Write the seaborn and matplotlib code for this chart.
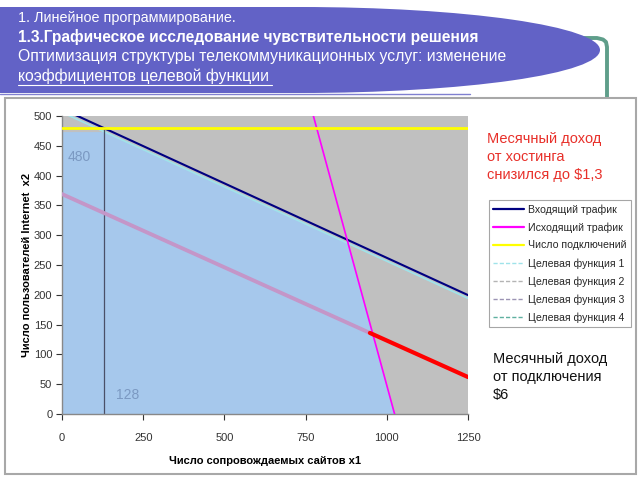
import numpy as np
import pandas as pd
import matplotlib
matplotlib.use("Agg")
import matplotlib.pyplot as plt
import seaborn as sns
from matplotlib.patches import Ellipse, Rectangle
from matplotlib.lines import Line2D

# ---------------- data ----------------
title_lines = ["1. Линейное программирование.",
               "1.3.Графическое исследование чувствительности решения",
               "Оптимизация структуры телекоммуникационных услуг: изменение",
               "коэффициентов целевой функции"]

inbound_x1 = [0, 1250]
inbound_x2 = [512, 199.5]
outbound_x1 = [774, 1024]
outbound_x2 = [500, 0]
connections_x1 = [0, 1250]
connections_x2 = [480, 480]
target1_x1 = [0, 1250]
target1_x2 = [506, 194]
objective_x1 = [0, 948]
objective_x2 = [369, 136]
optimum_x1 = [948, 1250]
optimum_x2 = [136, 62]
feasible_x1 = [0, 0, 132, 881, 1024]
feasible_x2 = [0, 473, 473, 286, 0]
guide_h_x1 = [0, 128]
guide_h_x2 = [480, 480]
guide_v_x1 = [128, 128]
guide_v_x2 = [0, 480]
x_ticks = [0, 250, 500, 750, 1000, 1250]
y_ticks = [0, 50, 100, 150, 200, 250, 300, 350, 400, 450, 500]
legend_labels = ["Входящий трафик", "Исходящий трафик", "Число подключений",
                 "Целевая функция 1", "Целевая функция 2",
                 "Целевая функция 3", "Целевая функция 4"]
legend_colors = ["#000080", "#ff00ff", "#ffff00", "#9fe3ea", "#b4b4b4", "#9c94b4", "#5fb0a0"]

sns.set_theme(style="white")
plt.rcParams['font.family'] = ['Liberation Sans', 'DejaVu Sans']

fig = plt.figure(figsize=(6.4, 4.8), dpi=100)

# ---------------- slide background ----------------
bg = fig.add_axes([0, 0, 1, 1], zorder=0)
bg.set_xlim(0, 640)
bg.set_ylim(480, 0)
bg.axis("off")
purple = "#6262c6"
bg.plot([470, 597, 603, 606, 607, 607], [38, 38, 39.5, 42, 47, 98],
        color="#5f9e8a", lw=2.8, solid_capstyle="butt", zorder=1)
bg.add_patch(Ellipse((300, 50), 600, 86, facecolor=purple, edgecolor="none", zorder=2))
bg.add_patch(Rectangle((0, 7), 300, 86, facecolor=purple, edgecolor="none", zorder=2))
bg.plot([0, 470], [94, 94], color="#8080d0", lw=1.0, zorder=2)
sizes = [10.4, 11.2, 11.3, 11.3]
for i, (t, yy) in enumerate(zip(title_lines, [18, 37, 57, 76])):
    bg.text(18, yy, t, color="white", fontsize=sizes[i],
            fontweight="bold" if i == 1 else "normal", va="center", ha="left", zorder=3)
bg.plot([18, 272], [85, 85], color="white", lw=0.8, zorder=3)
bg.add_patch(Rectangle((5, 98), 631, 376, facecolor="white", edgecolor="#a8a8a8", lw=1.5, zorder=4))

# ---------------- chart ----------------
ax = fig.add_axes([62/640, 66/480, 406/640, 298/480], zorder=5)
ax.set_facecolor("#c0c0c0")
ax.fill(feasible_x1, feasible_x2, color="#a6c8ec", zorder=1, lw=0)

kw = dict(ax=ax, estimator=None, sort=False)
sns.lineplot(x=target1_x1, y=target1_x2, color="#9fe3ea", lw=1.2, zorder=2, **kw)
sns.lineplot(x=guide_h_x1, y=guide_h_x2, color="#4a5068", lw=0.9, zorder=2, **kw)
sns.lineplot(x=guide_v_x1, y=guide_v_x2, color="#4a5068", lw=0.9, zorder=2, **kw)
sns.lineplot(x=inbound_x1, y=inbound_x2, color="#000080", lw=1.5, zorder=3, **kw)
sns.lineplot(x=outbound_x1, y=outbound_x2, color="#ff00ff", lw=1.2, zorder=3, **kw)
sns.lineplot(x=connections_x1, y=connections_x2, color="#ffff00", lw=2.0, zorder=3, **kw)
sns.lineplot(x=objective_x1, y=objective_x2, color="#c496c8", lw=2.8, zorder=4, **kw)
sns.lineplot(x=optimum_x1, y=optimum_x2, color="#ff0000", lw=3.0, zorder=4, **kw)

ax.text(18, 431, "480", color="#7b99c2", fontsize=10, va="center", ha="left", zorder=5)
ax.text(166, 32, "128", color="#7b99c2", fontsize=10, va="center", ha="left", zorder=5)

ax.set_xlim(0, 1250)
ax.set_ylim(0, 500)
ax.set_xticks(x_ticks)
ax.set_yticks(y_ticks)
ax.tick_params(axis="both", labelsize=8, colors="#333333", length=4, width=0.8,
               direction="out", bottom=True, left=True, pad=3)
ax.tick_params(axis="x", pad=10)
for s in ["top", "right"]:
    ax.spines[s].set_visible(False)
for s in ["left", "bottom"]:
    ax.spines[s].set_color("#888888")
    ax.spines[s].set_linewidth(1.0)
ax.set_xlabel("Число сопровождаемых сайтов x1", fontsize=8, fontweight="bold", color="black", labelpad=9)
ax.set_ylabel("Число пользователей Internet  x2", fontsize=8, fontweight="bold", color="black", labelpad=1)

handles = [Line2D([0], [0], color=c, lw=1.6 if i < 3 else 1.0, ls="-" if i < 3 else (0, (3, 1.5)))
           for i, c in enumerate(legend_colors)]
leg = fig.legend(handles, legend_labels, loc="upper left", bbox_to_anchor=(489/640, 1 - 200/480),
                 fontsize=7.6, frameon=True, fancybox=False, edgecolor="#909090",
                 handlelength=2.9, handletextpad=0.4, labelspacing=0.72, borderpad=0.4,
                 borderaxespad=0)
leg.get_frame().set_linewidth(0.8)
leg.set_zorder(10)

fig.text(487/640, 1 - 157/480, "Месячный доход\nот хостинга\nснизился до $1,3",
         color="#e8302a", fontsize=10.5, va="center", ha="left", linespacing=1.38, zorder=10)
fig.text(493/640, 1 - 377/480, "Месячный доход\nот подключения\n$6",
         color="#111111", fontsize=10.5, va="center", ha="left", linespacing=1.38, zorder=10)

fig.savefig("out.png", dpi=100)
